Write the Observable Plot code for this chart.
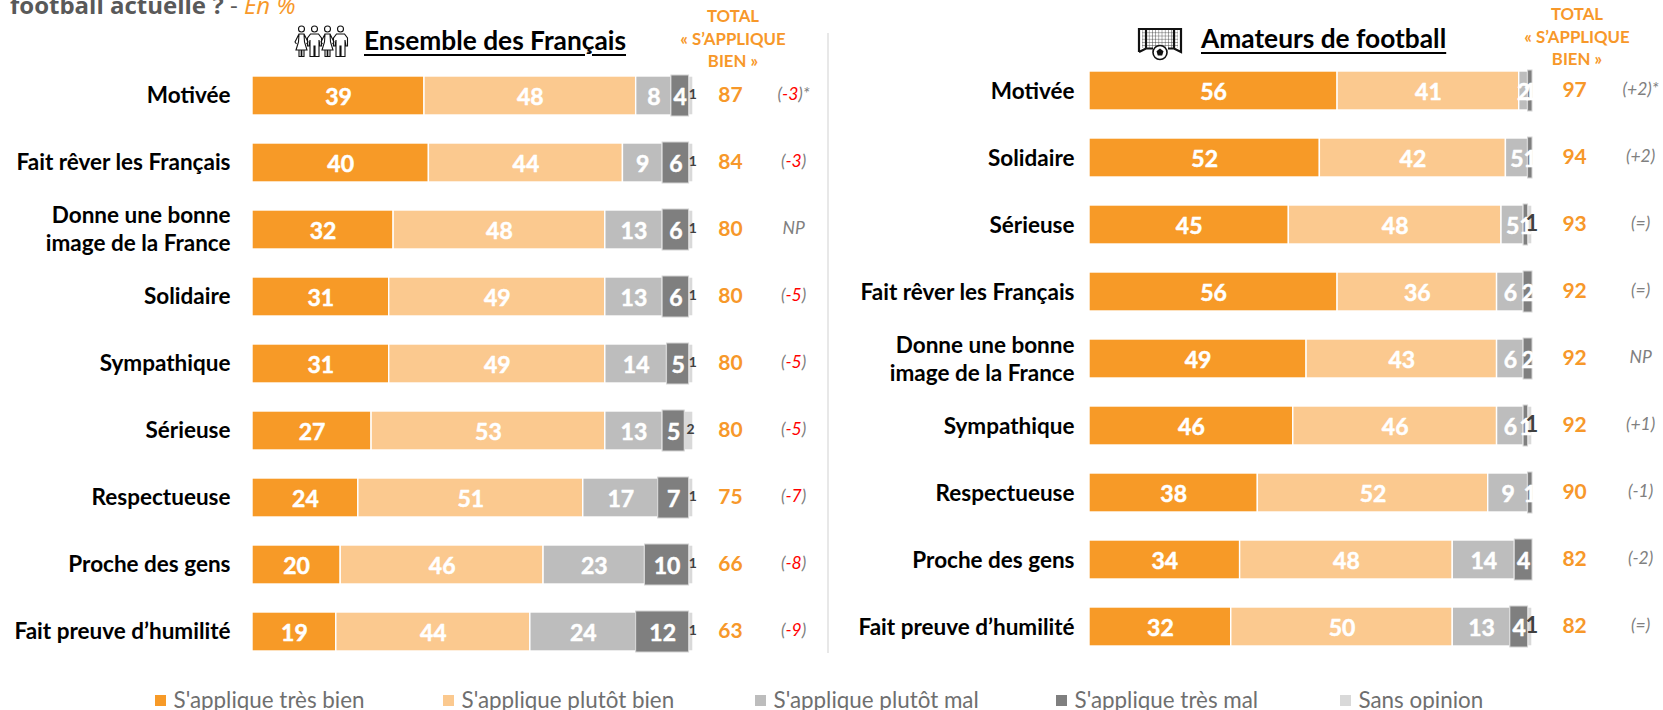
<!DOCTYPE html>
<html lang="fr">
<head>
<meta charset="utf-8">
<script src="https://cdn.jsdelivr.net/npm/d3@7"></script>
<script src="https://cdn.jsdelivr.net/npm/@observablehq/plot@0.6"></script>
<style>
html,body{margin:0;padding:0;background:#fff}
#page{position:relative;width:1663px;height:710px;overflow:hidden;font-family:Lato,sans-serif}
#charts{position:absolute;left:0;top:0;display:flex;width:1663px}
#charts svg{display:block;overflow:visible}
.abs{position:absolute;white-space:nowrap}
#title{left:10px;top:-10px;font:700 24px/30px "Open Sans",sans-serif;color:#595959}
#title em{font-weight:400;color:#F7982A}
#title span{font-weight:400}
.head{font-weight:700;font-size:26.3px;line-height:30px;color:#000;text-decoration:underline;text-decoration-thickness:2px;text-underline-offset:4px}
.tot{font-weight:700;font-size:16.8px;line-height:22.5px;color:#F7982A;text-align:center;transform:translateX(-50%)}
.sw{width:11px;height:11px}
.lg{font-size:22.4px;line-height:24px;color:#6f6f6f}
</style>
</head>
<body>
<div id="page">
  <div id="charts"></div>
  <div class="abs" id="title">football actuelle ? <span>-</span> <em>En %</em></div>

  <svg class="abs" style="left:292px;top:24px" width="60" height="34" viewBox="0 0 60 34" fill="none" stroke="#111" stroke-width="1.1">
    <defs>
      <g id="woman"><circle cx="0" cy="5" r="3"/><path d="M-2.5 10L-6.5 18L-5 20M2.5 10L6.5 18L5 20M-2.5 10H2.5L3 18L5.5 26H-5.5L-3 18ZM-2.5 26V32.5H-0.3V26M2.5 26V32.5H0.3V26"/></g>
      <g id="man"><circle cx="0" cy="5" r="3"/><path d="M-4 10H4L7 14V22H5.5L4.5 16V32.5H0.5V22H-0.5V32.5H-4.5V16L-5.5 22H-7V14Z"/></g>
    </defs>
    <use href="#woman" x="9.5"/><use href="#man" x="22.5"/><use href="#woman" x="35.5"/><use href="#man" x="48.5"/>
  </svg>
  <div class="abs head" id="h1" style="left:364px;top:25px">Ensemble des Français</div>

  <svg class="abs" style="left:1136px;top:26px" width="48" height="36" viewBox="0 0 48 36" fill="none" stroke="#111">
    <defs><pattern id="net" width="3.2" height="3.2" patternUnits="userSpaceOnUse"><path d="M0 0H3.2M0 0V3.2" stroke="#333" stroke-width=".8"/></pattern></defs>
    <rect x="6" y="3" width="36" height="19" fill="url(#net)" stroke="none"/>
    <path d="M3 26V3H45V26L38 22.5H32M3 26L10 22.5H17M10 22V3M38 22V3" stroke-width="2.2"/>
    <circle cx="24" cy="26.5" r="7" fill="#fff" stroke-width="1.6"/>
    <path d="M24 22.5L27.5 25.2L26.2 29.5H21.8L20.5 25.2Z" fill="#111" stroke="none"/>
  </svg>
  <div class="abs head" id="h2" style="left:1201px;top:23px">Amateurs de football</div>

  <div class="abs tot" style="left:733px;top:5px">TOTAL<br>« S’APPLIQUE<br>BIEN »</div>
  <div class="abs tot" style="left:1577px;top:3px">TOTAL<br>« S’APPLIQUE<br>BIEN »</div>
  <div id="legend"></div>
</div>
<script>
// ---------- data ----------
const seriesNames = ["S'applique très bien", "S'applique plutôt bien", "S'applique plutôt mal", "S'applique très mal", "Sans opinion"];
const seriesColors = ["#F79A27", "#FBC98F", "#BDBDBD", "#7F7F7F", "#D9D9D9"];

const itemsFrance = ["Motivée", "Fait rêver les Français", "Donne une bonne\nimage de la France", "Solidaire", "Sympathique", "Sérieuse", "Respectueuse", "Proche des gens", "Fait preuve d’humilité"];
const tresBienFrance = [39, 40, 32, 31, 31, 27, 24, 20, 19];
const plutotBienFrance = [48, 44, 48, 49, 49, 53, 51, 46, 44];
const plutotMalFrance = [8, 9, 13, 13, 14, 13, 17, 23, 24];
const tresMalFrance = [4, 6, 6, 6, 5, 5, 7, 10, 12];
const sansOpinionFrance = [1, 1, 1, 1, 1, 2, 1, 1, 1];
const totalFrance = [87, 84, 80, 80, 80, 80, 75, 66, 63];
const evolutionFrance = ["(-3)*", "(-3)", "NP", "(-5)", "(-5)", "(-5)", "(-7)", "(-8)", "(-9)"];

const itemsFoot = ["Motivée", "Solidaire", "Sérieuse", "Fait rêver les Français", "Donne une bonne\nimage de la France", "Sympathique", "Respectueuse", "Proche des gens", "Fait preuve d’humilité"];
const tresBienFoot = [56, 52, 45, 56, 49, 46, 38, 34, 32];
const plutotBienFoot = [41, 42, 48, 36, 43, 46, 52, 48, 50];
const plutotMalFoot = [2, 5, 5, 6, 6, 6, 9, 14, 13];
const tresMalFoot = [1, 1, 1, 2, 2, 1, 1, 4, 4];
const sansOpinionFoot = [0, 0, 1, 0, 0, 1, 0, 0, 1];
const totalFoot = [97, 94, 93, 92, 92, 92, 90, 82, 82];
const evolutionFoot = ["(+2)*", "(+2)", "(=)", "(=)", "NP", "(+1)", "(-1)", "(-2)", "(=)"];

const legendLeft = [155, 443, 755, 1056, 1340];

// ---------- chart ----------
function panel({items, values, total, evolution, width, xRange, yRange, labelDx, labelDy, totalX, evoX, divider, sansSize, redNegative}) {
  const rows = [];
  items.forEach((item, i) => {
    let c = 0;
    values.forEach((col, s) => {
      const v = col[i];
      if (v > 0) rows.push({item, series: seriesNames[s], s, value: v, x1: c, x2: c + v});
      c += v;
    });
  });
  const summary = items.map((item, i) => ({item, total: total[i], evolution: evolution[i]}));
  const labelFill = d => d.s === 4 ? "#404040" : "#fff";
  const plot = Plot.plot({
    width, height: 680, margin: 0, marginTop: 33, marginBottom: 27,
    style: {fontFamily: "Lato, sans-serif", background: "transparent", overflow: "visible"},
    x: {axis: null, domain: [0, 100], range: xRange},
    y: {axis: null, domain: items, range: yRange, paddingInner: 0.418, paddingOuter: 0.209, align: 0.5},
    color: {domain: seriesNames, range: seriesColors},
    marks: [
      divider != null ? Plot.ruleX([divider], {stroke: "#d9d9d9", strokeWidth: 1.2}) : null,
      Plot.barX(rows.filter(d => d.s !== 3), {x1: "x1", x2: "x2", y: "item", fill: "series", stroke: "#fff", strokeWidth: 1.4}),
      Plot.barX(rows.filter(d => d.s === 3), {x1: "x1", x2: "x2", y: "item", fill: "series", stroke: "#d4d4d4", strokeWidth: 1, insetTop: -1, insetBottom: -1}),
      Plot.text(rows.filter(d => d.s !== 4), {x: d => (d.x1 + d.x2) / 2, y: "item", text: "value", fill: labelFill, stroke: labelFill, strokeWidth: 0.5, fontWeight: 700, fontSize: 23, dy: 2}),
      Plot.text(rows.filter(d => d.s === 4), {x: d => (d.x1 + d.x2) / 2, y: "item", text: "value", fill: labelFill, fontWeight: 700, fontSize: sansSize, dx: 1.5, dy: -1}),
      Plot.text(summary, {x: 0, y: "item", text: "item", textAnchor: "end", dx: labelDx, dy: labelDy, fill: "#000", fontWeight: 700, fontSize: 22.5, lineHeight: 1.27}),
      Plot.text(summary, {x: totalX, y: "item", text: "total", fill: "#F7982A", fontWeight: 700, fontSize: 21, dy: -1}),
      Plot.text(summary, {x: evoX, y: "item", text: "evolution", fill: "#808080", fontStyle: "italic", fontSize: 17.5, dy: -2})
    ]
  });
  // negative changes are red inside a grey bracket in the left panel
  if (redNegative) {
    d3.select(plot).selectAll("text").each(function () {
      const m = /^\((-\d+)\)(\*?)$/.exec(this.textContent);
      if (!m) return;
      const t = d3.select(this);
      t.text(null);
      t.append("tspan").text("(");
      t.append("tspan").attr("fill", "#f00").text(m[1]);
      t.append("tspan").text(")" + m[2]);
    });
  }
  return plot;
}

const charts = document.getElementById("charts");
charts.append(panel({
  items: itemsFrance,
  values: [tresBienFrance, plutotBienFrance, plutotMalFrance, tresMalFrance, sansOpinionFrance],
  total: totalFrance, evolution: evolutionFrance,
  width: 830, xRange: [252, 693], yRange: [61.5, 664.5], labelDx: -22, labelDy: -2,
  totalX: 108.4, evoX: 122.7, divider: 130.5, sansSize: 14, redNegative: true
}));
charts.append(panel({
  items: itemsFoot,
  values: [tresBienFoot, plutotBienFoot, plutotMalFoot, tresMalFoot, sansOpinionFoot],
  total: totalFoot, evolution: evolutionFoot,
  width: 833, xRange: [259, 702], yRange: [57, 660], labelDx: -15, labelDy: -1,
  totalX: 109.5, evoX: 124.4, divider: null, sansSize: 22, redNegative: false
}));

// ---------- legend ----------
const legend = d3.select("#legend");
seriesNames.forEach((name, i) => {
  legend.append("div").attr("class", "abs sw").style("left", legendLeft[i] + "px").style("top", "695px").style("background", seriesColors[i]);
  legend.append("div").attr("class", "abs lg").style("left", (legendLeft[i] + 18.5) + "px").style("top", "688px").text(name);
});
</script>
</body>
</html>
